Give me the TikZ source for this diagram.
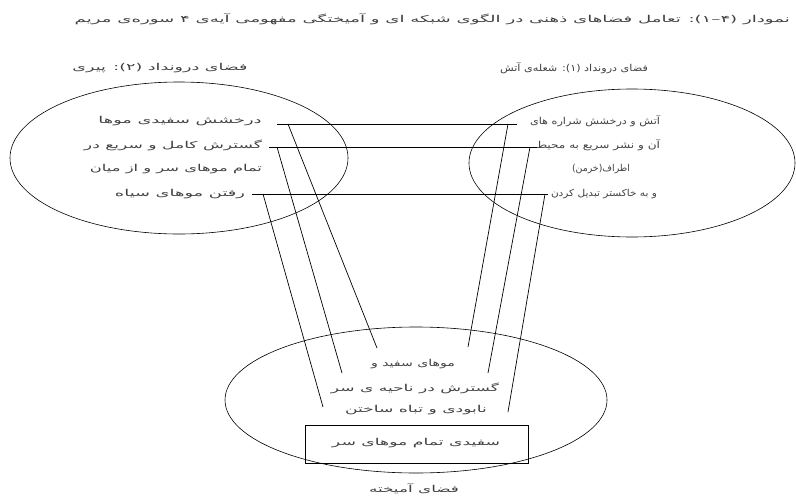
\documentclass[tikz,border=0pt]{standalone}
\usepackage{fontspec}
\usepackage{graphicx}
\newfontfamily\arabicfont[Script=Arabic, FakeStretch=1.8]{DejaVu Sans}
\TeXXeTstate=1
\usetikzlibrary{shapes.geometric}
\newcommand{\fitw}[2]{\resizebox{#1}{\height}{#2}}
\begin{document}
\begin{tikzpicture}[x=1pt,y=-1pt,
  fa/.style={font=\arabicfont\fontsize{9.5}{11}\selectfont, inner sep=0pt, text=black!75},
  ell/.style={draw, ellipse, line width=0.6pt, inner sep=0pt},
  link/.style={line width=0.7pt}]
\useasboundingbox (0,0) rectangle (796,498);
% title
\node[fa, anchor=east] (title) at (790,19) {\fitw{715pt}{\beginR نمودار \beginL(۴–۱)\endL: تعامل فضاهای ذهنی در الگوی شبکه ای و آمیختگی  مفهومی آیه‌ی ۴ سوره‌ی مریم\endR}};
% input labels
\node[fa] (labL) at (160,68) {\fitw{175pt}{\beginR فضای درونداد (۲): پیری\endR}};
\node[fa] (labR) at (574,68) {\fitw{148pt}{\beginR فضای درونداد (۱): شعله‌ی آتش\endR}};
% ellipses
\node[ell, minimum width=338pt, minimum height=152pt] (EL) at (179,158) {};
\node[ell, minimum width=326pt, minimum height=148pt] (ER) at (632,163) {};
\node[ell, minimum width=382pt, minimum height=146pt] (EB) at (416,400) {};
% left texts
\node[fa] (L1) at (180,121) {\fitw{163pt}{\beginR درخشش  سفیدی موها\endR}};
\node[fa] (L2) at (173,145) {\fitw{178pt}{\beginR گسترش کامل و سریع در\endR}};
\node[fa] (L3) at (176,169) {\fitw{172pt}{\beginR تمام موهای سر و از میان\endR}};
\node[fa] (L4) at (180,194) {\fitw{130pt}{\beginR رفتن موهای سیاه\endR}};
% right texts
\node[fa] (R1) at (595,121) {\fitw{130pt}{\beginR آتش  و درخشش شراره های\endR}};
\node[fa] (R2) at (598,145) {\fitw{124pt}{\beginR آن و نشر سریع به محیط\endR}};
\node[fa] (R3) at (601,169) {\fitw{58pt}{\beginR اطراف(خرمن)\endR}};
\node[fa] (R4) at (604,194) {\fitw{106pt}{\beginR و به خاکستر تبدیل کردن\endR}};
% blend texts
\node[fa] (B1) at (413,364) {\fitw{84pt}{\beginR موهای سفید و\endR}};
\node[fa] (B2) at (415,388) {\fitw{168pt}{\beginR گسترش در ناحیه ی سر\endR}};
\node[fa] (B3) at (416,410) {\fitw{142pt}{\beginR نابودی و تباه ساختن\endR}};
\node[draw, line width=0.6pt, minimum width=223pt, minimum height=38pt, inner sep=0pt] (box) at (416.5,444) {};
\node[fa] (boxt) at (416,443) {\fitw{168pt}{\beginR سفیدی تمام  موهای سر\endR}};
\node[fa] (labB) at (414,489) {\fitw{90pt}{\beginR فضای آمیخته\endR}};
% connector end points
\coordinate (hl1) at (277,124); \coordinate (hr1) at (517,124);
\coordinate (hl2) at (269,147); \coordinate (hr2) at (537,147);
\coordinate (hl3) at (252,194); \coordinate (hr3) at (548,194);
\coordinate (sl1) at (288,124); \coordinate (el1) at (377,348);
\coordinate (sl2) at (277,147); \coordinate (el2) at (342,373);
\coordinate (sl3) at (263,194); \coordinate (el3) at (323,407);
\coordinate (sr1) at (508,124); \coordinate (er1) at (468,347);
\coordinate (sr2) at (530,147); \coordinate (er2) at (488,373);
\coordinate (sr3) at (545,194); \coordinate (er3) at (508,412);
% connectors
\draw[link] (hl1) -- (hr1);
\draw[link] (hl2) -- (hr2);
\draw[link] (hl3) -- (hr3);
\draw[link] (sl1) -- (el1);
\draw[link] (sl2) -- (el2);
\draw[link] (sl3) -- (el3);
\draw[link] (sr1) -- (er1);
\draw[link] (sr2) -- (er2);
\draw[link] (sr3) -- (er3);
\end{tikzpicture}
\end{document}
